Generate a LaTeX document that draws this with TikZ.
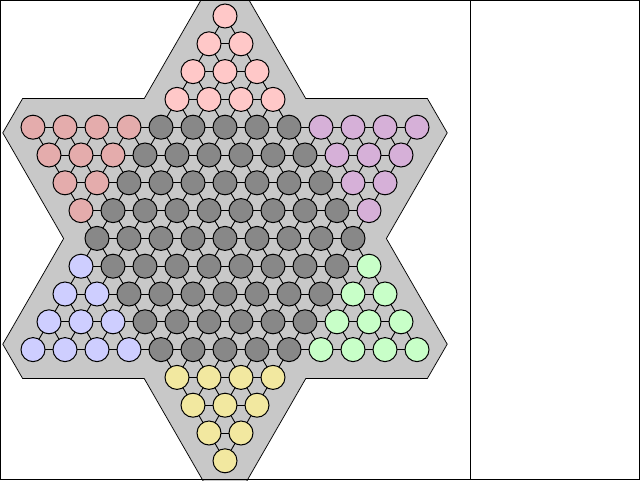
\documentclass[tikz,border=0pt]{standalone}
\usetikzlibrary{calc}
\definecolor{board}{RGB}{200,200,200}
\definecolor{cgray}{RGB}{136,136,136}
\definecolor{cpink}{RGB}{255,200,200}
\definecolor{crose}{RGB}{228,172,172}
\definecolor{cpurple}{RGB}{214,176,216}
\definecolor{cblue}{RGB}{206,206,255}
\definecolor{cgreen}{RGB}{200,255,200}
\definecolor{cyel}{RGB}{242,232,160}
\begin{document}
\begin{tikzpicture}[x=1pt,y=-1pt,
  hole/.style={circle,draw=black,line width=1pt,minimum size=24pt,inner sep=0pt},
  link/.style={black,line width=0.9pt}]
\useasboundingbox (0,0) rectangle (640,480);
% hole positions
\foreach \rw/\mm in {0/0,1/1,2/2,3/3,4/12,5/11,6/10,7/9,8/8,9/9,10/10,11/11,12/12,13/3,14/2,15/1,16/0}{
  \foreach \ii in {0,...,\mm}{
    \pgfmathtruncatemacro\qq{-\mm+2*\ii}
    \coordinate (p\qq_\rw) at ({225+16*\qq},{16+27.8*\rw});
  }
}
% offset triangle corners
\coordinate (T) at (225,-40.4);
\coordinate (BL) at (-15.85,377.8);
\coordinate (BR) at (465.85,377.8);
\coordinate (TL) at (-15.85,99.2);
\coordinate (TR) at (465.85,99.2);
\coordinate (B) at (225,517.6);
% board
\begin{scope}
\clip (0,0) rectangle (640,480);
\foreach \ww/\cl in {2/black,0.1/board}{
  \filldraw[fill=\cl,draw=\cl,line width=\ww pt]
    ($(T)!38.8pt!(BL)$) -- ($(BL)!38.8pt!(T)$) -- ($(BL)!38.8pt!(BR)$) --
    ($(BR)!38.8pt!(BL)$) -- ($(BR)!38.8pt!(T)$) -- ($(T)!38.8pt!(BR)$) -- cycle;
  \filldraw[fill=\cl,draw=\cl,line width=\ww pt]
    ($(TL)!38.8pt!(TR)$) -- ($(TR)!38.8pt!(TL)$) -- ($(TR)!38.8pt!(B)$) --
    ($(B)!38.8pt!(TR)$) -- ($(B)!38.8pt!(TL)$) -- ($(TL)!38.8pt!(B)$) -- cycle;
}
\end{scope}
% horizontal links
\foreach \rw/\mm in {1/1,2/2,3/3,4/12,5/11,6/10,7/9,8/8,9/9,10/10,11/11,12/12,13/3,14/2,15/1}{
  \draw[link] (p-\mm_\rw) -- (p\mm_\rw);
}
% down-right links
\foreach \cc/\ra/\rb in {-22/11/12,-20/10/12,-18/9/12,-16/4/16,-14/4/15,-12/4/14,-10/4/13,-8/4/12,-6/3/12,-4/2/12,-2/1/12,0/0/12,2/4/7,4/4/6,6/4/5}{
  \pgfmathtruncatemacro\qa{\ra+\cc}
  \pgfmathtruncatemacro\qb{\rb+\cc}
  \draw[link] (p\qa_\ra) -- (p\qb_\rb);
}
% down-left links
\foreach \cc/\ra/\rb in {22/11/12,20/10/12,18/9/12,16/4/16,14/4/15,12/4/14,10/4/13,8/4/12,6/3/12,4/2/12,2/1/12,0/0/12,-2/4/7,-4/4/6,-6/4/5}{
  \pgfmathtruncatemacro\qa{\cc-\ra}
  \pgfmathtruncatemacro\qb{\cc-\rb}
  \draw[link] (p\qa_\ra) -- (p\qb_\rb);
}
% holes
\foreach \rw/\mm in {0/0,1/1,2/2,3/3,4/12,5/11,6/10,7/9,8/8,9/9,10/10,11/11,12/12,13/3,14/2,15/1,16/0}{
  \foreach \ii in {0,...,\mm}{
    \pgfmathtruncatemacro\qq{-\mm+2*\ii}
    \ifnum\rw<4 \def\col{cpink}\else\ifnum\rw>12 \def\col{cyel}\else\def\col{cgray}%
      \ifnum\rw<8 %
        \ifnum\qq<\numexpr-1-\rw\relax\def\col{crose}\fi
        \ifnum\qq>\numexpr\rw+1\relax\def\col{cpurple}\fi
      \fi
      \ifnum\rw>8 %
        \ifnum\qq<\numexpr\rw-17\relax\def\col{cblue}\fi
        \ifnum\qq>\numexpr17-\rw\relax\def\col{cgreen}\fi
      \fi
    \fi\fi
    \node[hole,fill=\col] (h\qq_\rw) at (p\qq_\rw) {};
  }
}
% frame
\draw[line width=1pt] (0.5,0.5) rectangle (639.5,479.5);
\draw[line width=1pt] (470.5,0) -- (470.5,480);
\end{tikzpicture}
\end{document}
